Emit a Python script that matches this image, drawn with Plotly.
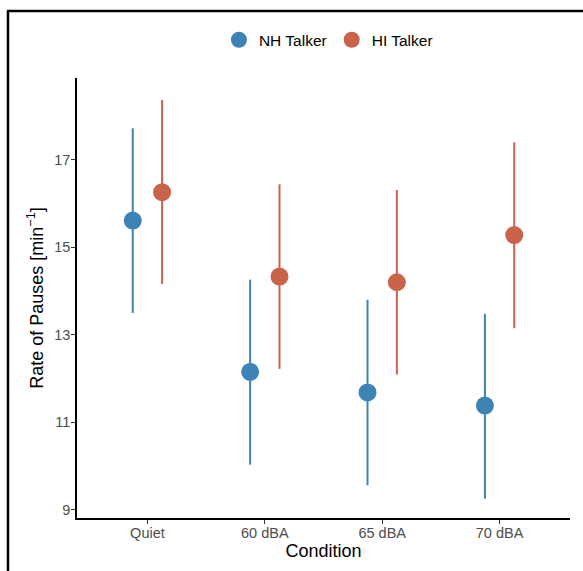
import plotly.graph_objects as go

conditions = ["Quiet", "60 dBA", "65 dBA", "70 dBA"]
nh_mean = [15.61, 12.15, 11.68, 11.38]
nh_lo = [13.50, 10.03, 9.56, 9.25]
nh_hi = [17.72, 14.26, 13.80, 13.48]
hi_mean = [16.26, 14.33, 14.20, 15.28]
hi_lo = [14.16, 12.22, 12.09, 13.15]
hi_hi = [18.37, 16.44, 16.31, 17.40]

dodge = 0.125
blue = "#3E83B6"
red = "#C9634A"

fig = go.Figure()

def add_series(name, mean, lo, hi, color, off):
    xs = [i + 1 + off for i in range(len(conditions))]
    fig.add_trace(go.Scatter(
        x=xs, y=mean, mode="markers", name=name,
        marker=dict(size=18, color=color, line=dict(width=0)),
        error_y=dict(type="data", symmetric=False,
                     array=[h - m for h, m in zip(hi, mean)],
                     arrayminus=[m - l for m, l in zip(mean, lo)],
                     color=color, thickness=2, width=0),
    ))

add_series("NH Talker", nh_mean, nh_lo, nh_hi, blue, -dodge)
add_series("HI Talker", hi_mean, hi_lo, hi_hi, red, dodge)

fig.update_layout(
    width=583, height=571,
    margin=dict(l=77, r=13, t=78, b=53),
    plot_bgcolor="white", paper_bgcolor="white",
    font=dict(family="Liberation Sans, Arial, sans-serif", color="black"),
    showlegend=True,
    legend=dict(orientation="h", x=0.51, xanchor="center", y=1.086, yanchor="middle",
                font=dict(size=15.5, color="black"), itemsizing="trace",
                traceorder="normal"),
    xaxis=dict(range=[0.4, 4.6], tickmode="array", tickvals=[1, 2, 3, 4], ticktext=conditions,
               showgrid=False, zeroline=False, showline=True, linecolor="black", linewidth=1.5,
               ticks="outside", ticklen=4, tickcolor="#333333", tickwidth=1,
               ticklabelstandoff=-3,
               tickfont=dict(size=14.5, color="#4D4D4D"),
               title=dict(text="Condition", font=dict(size=18, color="black"), standoff=4)),
    yaxis=dict(range=[8.81, 18.87], tickvals=[9, 11, 13, 15, 17],
               showgrid=False, zeroline=False, showline=True, linecolor="black", linewidth=1.5,
               ticks="outside", ticklen=4, tickcolor="#333333", tickwidth=1,
               ticklabelstandoff=-2,
               tickfont=dict(size=14.5, color="#4D4D4D"),
               title=dict(text="Rate of Pauses [min<sup>−1</sup>]", font=dict(size=18, color="black"), standoff=6)),
)

# outer frame lines (left and top)
fig.add_shape(type="line", xref="paper", yref="paper", x0=-0.14, x1=-0.14, y0=1.152, y1=-0.2,
              line=dict(color="black", width=2.5))
fig.add_shape(type="line", xref="paper", yref="paper", x0=-0.142, x1=1.1, y0=1.152, y1=1.152,
              line=dict(color="black", width=2.5))

fig.write_html("out.html")
